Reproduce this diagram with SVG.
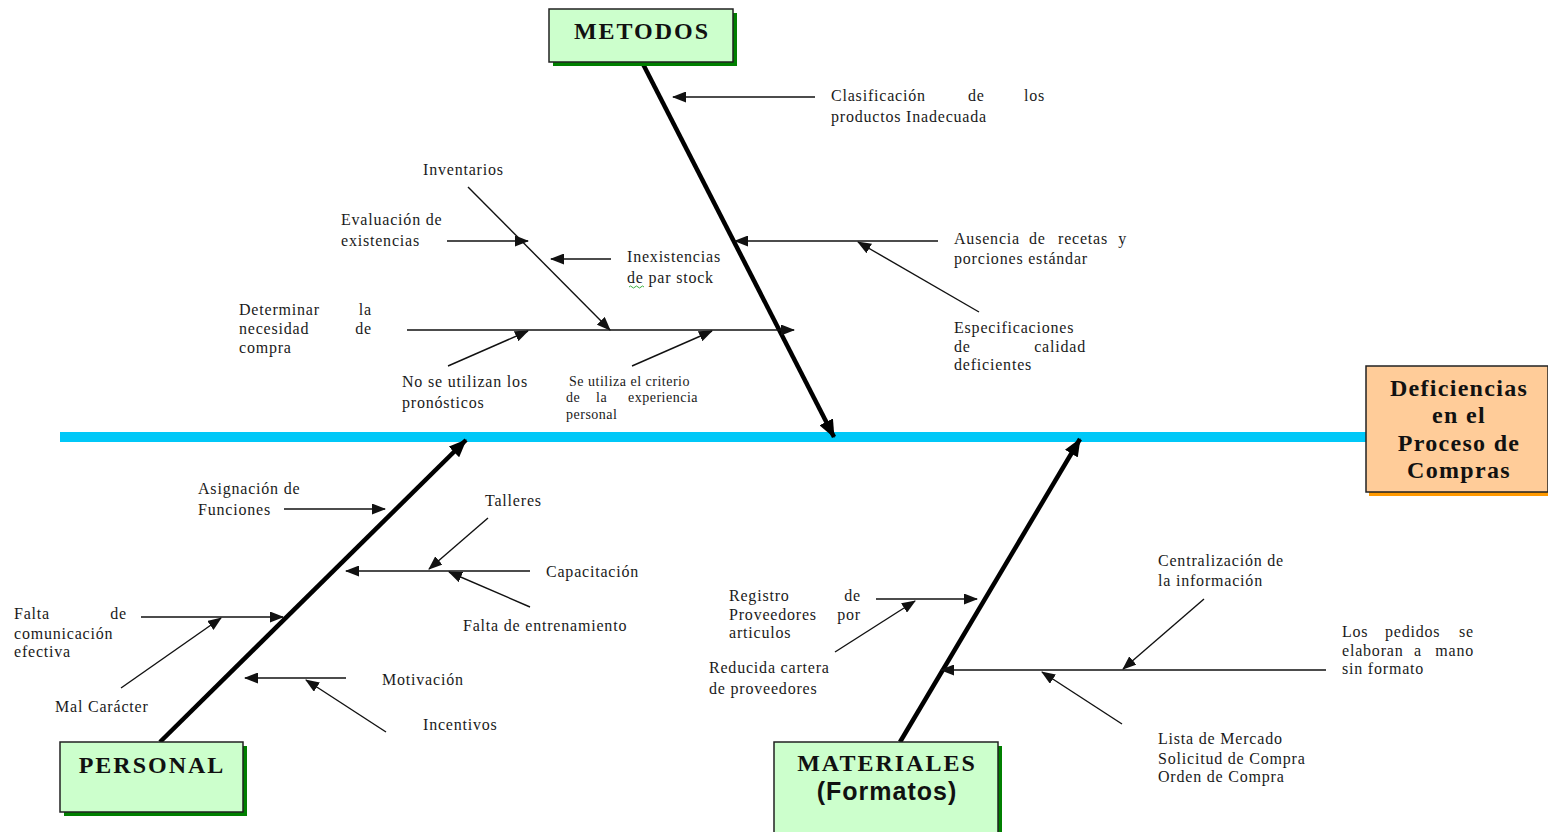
<svg xmlns="http://www.w3.org/2000/svg" width="1548" height="832" viewBox="0 0 1548 832">
  <style>
    .t { font-family: "Liberation Serif", "Times New Roman", serif; font-size: 16px; fill: #1a1a1a; letter-spacing: 0.8px; }
    .ts { font-family: "Liberation Serif", "Times New Roman", serif; font-size: 14px; fill: #1a1a1a; letter-spacing: 0.5px; }
    .title { font-family: "Liberation Serif", "Times New Roman", serif; font-size: 24px; font-weight: bold; fill: #111; letter-spacing: 2px; text-anchor: middle; }
    .sans { font-family: "Liberation Sans", Arial, sans-serif; font-size: 25px; font-weight: bold; fill: #111; letter-spacing: 1px; text-anchor: middle; }
    .eff { font-family: "Liberation Serif", "Times New Roman", serif; font-size: 24px; font-weight: bold; fill: #111; letter-spacing: 1.3px; text-anchor: middle; }
    .cat { fill: #ccffcc; stroke: #222; stroke-width: 1.5; }
    .catsh { fill: #008000; }
    .thin { stroke: #111; stroke-width: 1.4; fill: none; marker-end: url(#ah); }
    .bone { stroke: #000; stroke-width: 4.5; fill: none; marker-end: url(#ahb); }
  </style>
  <defs>
    <marker id="ah" markerUnits="userSpaceOnUse" markerWidth="15" markerHeight="11" refX="13" refY="5.5" orient="auto">
      <path d="M0,0 L14,5.5 L0,11 Z" fill="#111"/>
    </marker>
    <marker id="ahb" markerUnits="userSpaceOnUse" markerWidth="19" markerHeight="15" refX="17" refY="7.5" orient="auto">
      <path d="M0,0 L18,7.5 L0,15 Z" fill="#000"/>
    </marker>
  </defs>

  <rect width="1548" height="832" fill="#ffffff"/>

  <!-- spine -->
  <g id="spine">
    <rect x="60" y="432" width="1308" height="10" fill="#00c8f8"/>
  </g>

  <!-- connectors: main bones and cause arrows -->
  <g id="connectors">
    <line class="bone" x1="643" y1="64" x2="834" y2="437"/>
    <line class="bone" x1="160" y1="742" x2="466" y2="440"/>
    <line class="bone" x1="900" y1="742" x2="1080" y2="439"/>

    <!-- METODOS causes -->
    <line class="thin" x1="815" y1="97" x2="673" y2="97"/>
    <line class="thin" x1="938" y1="241" x2="735" y2="241"/>
    <line class="thin" x1="979" y1="312" x2="858" y2="242"/>
    <line class="thin" x1="407" y1="330" x2="794" y2="330"/>
    <line class="thin" x1="468" y1="187" x2="610" y2="330"/>
    <line class="thin" x1="447" y1="241" x2="528" y2="241"/>
    <line class="thin" x1="611" y1="259" x2="551" y2="259"/>
    <line class="thin" x1="448" y1="366" x2="528" y2="331"/>
    <line class="thin" x1="632" y1="366" x2="712" y2="331"/>

    <!-- PERSONAL causes -->
    <line class="thin" x1="284" y1="509" x2="385" y2="509"/>
    <line class="thin" x1="530" y1="571" x2="346" y2="571"/>
    <line class="thin" x1="488" y1="518" x2="429" y2="569"/>
    <line class="thin" x1="530" y1="607" x2="449" y2="572"/>
    <line class="thin" x1="141" y1="617" x2="283" y2="617"/>
    <line class="thin" x1="121" y1="688" x2="221" y2="618"/>
    <line class="thin" x1="346" y1="678" x2="245" y2="678"/>
    <line class="thin" x1="386" y1="732" x2="306" y2="680"/>

    <!-- MATERIALES causes -->
    <line class="thin" x1="876" y1="599" x2="977" y2="599"/>
    <line class="thin" x1="835" y1="652" x2="915" y2="601"/>
    <line class="thin" x1="1326" y1="670" x2="941" y2="670"/>
    <line class="thin" x1="1204" y1="599" x2="1123" y2="669"/>
    <line class="thin" x1="1122" y1="724" x2="1042" y2="672"/>
  </g>

  <!-- effect box -->
  <g id="efecto">
    <rect x="1369" y="370" width="182" height="126" fill="#ff9900"/>
    <rect x="1366" y="366" width="182" height="126" fill="#ffcc99" stroke="#222" stroke-width="1.5"/>
    <text class="eff" x="1459" y="396">Deficiencias</text>
    <text class="eff" x="1459" y="423">en el</text>
    <text class="eff" x="1459" y="451">Proceso de</text>
    <text class="eff" x="1459" y="478">Compras</text>
  </g>

  <!-- category boxes -->
  <g id="metodos">
    <rect class="catsh" x="553" y="13" width="184" height="53"/>
    <rect class="cat" x="549" y="9" width="184" height="53"/>
    <text class="title" x="642" y="39">METODOS</text>
  </g>
  <g id="personal">
    <rect class="catsh" x="64" y="746" width="183" height="70"/>
    <rect class="cat" x="60" y="742" width="183" height="70"/>
    <text class="title" x="152" y="773">PERSONAL</text>
  </g>
  <g id="materiales">
    <rect class="catsh" x="778" y="746" width="224" height="90"/>
    <rect class="cat" x="774" y="742" width="224" height="94"/>
    <text class="title" x="887" y="771">MATERIALES</text>
    <text class="sans" x="887" y="800">(Formatos)</text>
  </g>

  <!-- METODOS cause labels -->
  <g id="c-clasificacion">
    <text class="t" x="831" y="101">Clasificación</text>
    <text class="t" x="968" y="101">de</text>
    <text class="t" x="1045" y="101" text-anchor="end">los</text>
    <text class="t" x="831" y="122">productos Inadecuada</text>
  </g>
  <g id="c-ausencia">
    <text class="t" x="954" y="244">Ausencia</text>
    <text class="t" x="1029" y="244">de</text>
    <text class="t" x="1058" y="244">recetas</text>
    <text class="t" x="1127" y="244" text-anchor="end">y</text>
    <text class="t" x="954" y="264">porciones estándar</text>
  </g>
  <g id="c-especificaciones">
    <text class="t" x="954" y="333">Especificaciones</text>
    <text class="t" x="954" y="352">de</text>
    <text class="t" x="1086" y="352" text-anchor="end">calidad</text>
    <text class="t" x="954" y="370">deficientes</text>
  </g>
  <g id="c-determinar">
    <text class="t" x="239" y="315">Determinar</text>
    <text class="t" x="372" y="315" text-anchor="end">la</text>
    <text class="t" x="239" y="334">necesidad</text>
    <text class="t" x="372" y="334" text-anchor="end">de</text>
    <text class="t" x="239" y="353">compra</text>
  </g>
  <g id="c-inventarios">
    <text class="t" x="423" y="175">Inventarios</text>
  </g>
  <g id="c-evaluacion">
    <text class="t" x="341" y="225">Evaluación de</text>
    <text class="t" x="341" y="246">existencias</text>
  </g>
  <g id="c-inexistencias">
    <text class="t" x="627" y="262">Inexistencias</text>
    <text class="t" x="627" y="283">de par stock</text>
    <path d="M629,287 q1.5,-2 3,0 t3,0 t3,0 t3,0 t3,0" fill="none" stroke="#3cb043" stroke-width="1"/>
  </g>
  <g id="c-pronosticos">
    <text class="t" x="402" y="387">No se utilizan los</text>
    <text class="t" x="402" y="408">pronósticos</text>
  </g>
  <g id="c-criterio">
    <text class="ts" x="569" y="386">Se utiliza el criterio</text>
    <text class="ts" x="566" y="402">de</text>
    <text class="ts" x="596" y="402">la</text>
    <text class="ts" x="698" y="402" text-anchor="end">experiencia</text>
    <text class="ts" x="566" y="419">personal</text>
  </g>

  <!-- PERSONAL cause labels -->
  <g id="c-asignacion">
    <text class="t" x="198" y="494">Asignación de</text>
    <text class="t" x="198" y="515">Funciones</text>
  </g>
  <g id="c-talleres">
    <text class="t" x="485" y="506">Talleres</text>
  </g>
  <g id="c-capacitacion">
    <text class="t" x="546" y="577">Capacitación</text>
  </g>
  <g id="c-entrenamiento">
    <text class="t" x="463" y="631">Falta de entrenamiento</text>
  </g>
  <g id="c-comunicacion">
    <text class="t" x="14" y="619">Falta</text>
    <text class="t" x="127" y="619" text-anchor="end">de</text>
    <text class="t" x="14" y="639">comunicación</text>
    <text class="t" x="14" y="657">efectiva</text>
  </g>
  <g id="c-caracter">
    <text class="t" x="55" y="712">Mal Carácter</text>
  </g>
  <g id="c-motivacion">
    <text class="t" x="382" y="685">Motivación</text>
  </g>
  <g id="c-incentivos">
    <text class="t" x="423" y="730">Incentivos</text>
  </g>

  <!-- MATERIALES cause labels -->
  <g id="c-registro">
    <text class="t" x="729" y="601">Registro</text>
    <text class="t" x="861" y="601" text-anchor="end">de</text>
    <text class="t" x="729" y="620">Proveedores</text>
    <text class="t" x="861" y="620" text-anchor="end">por</text>
    <text class="t" x="729" y="638">articulos</text>
  </g>
  <g id="c-cartera">
    <text class="t" x="709" y="673">Reducida cartera</text>
    <text class="t" x="709" y="694">de proveedores</text>
  </g>
  <g id="c-pedidos">
    <text class="t" x="1342" y="637">Los</text>
    <text class="t" x="1385" y="637">pedidos</text>
    <text class="t" x="1474" y="637" text-anchor="end">se</text>
    <text class="t" x="1342" y="656">elaboran</text>
    <text class="t" x="1414" y="656">a</text>
    <text class="t" x="1474" y="656" text-anchor="end">mano</text>
    <text class="t" x="1342" y="674">sin formato</text>
  </g>
  <g id="c-centralizacion">
    <text class="t" x="1158" y="566">Centralización de</text>
    <text class="t" x="1158" y="586">la información</text>
  </g>
  <g id="c-formatos">
    <text class="t" x="1158" y="744">Lista de Mercado</text>
    <text class="t" x="1158" y="764">Solicitud de Compra</text>
    <text class="t" x="1158" y="782">Orden de Compra</text>
  </g>
</svg>
